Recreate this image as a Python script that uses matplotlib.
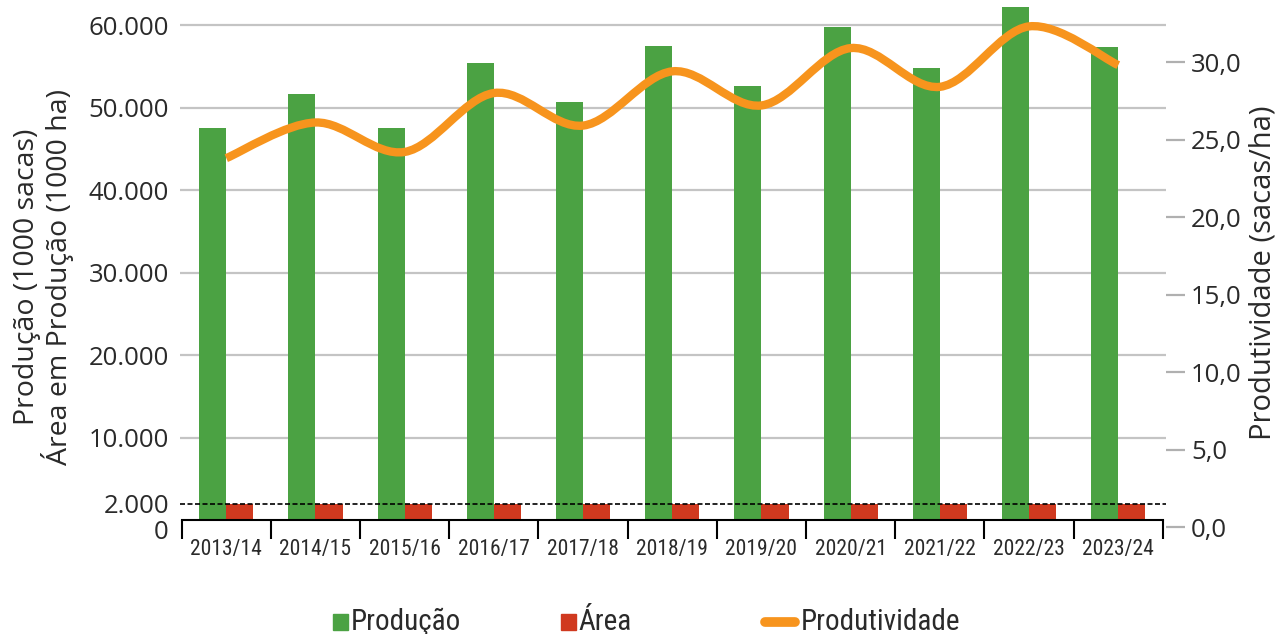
import matplotlib
matplotlib.use('Agg')
import matplotlib.pyplot as plt
import numpy as np
from matplotlib.path import Path
from matplotlib.patches import PathPatch, Rectangle
from matplotlib.lines import Line2D
from matplotlib.ticker import FuncFormatter

safras = ['2013/14', '2014/15', '2015/16', '2016/17', '2017/18', '2018/19',
          '2019/20', '2020/21', '2021/22', '2022/23', '2023/24']
producao = [47570, 51700, 47570, 55340, 50730, 57520, 52670, 59710, 54850, 62140, 57280]
area = [1900, 1900, 1900, 1900, 1900, 1900, 1900, 1900, 1900, 1900, 1900]
produtividade = [23.8, 26.1, 24.2, 28.0, 25.9, 29.4, 27.2, 30.9, 28.4, 32.3, 29.8]

ticks_esq = [0, 2000, 10000, 20000, 30000, 40000, 50000, 60000]
ticks_dir = [0, 5, 10, 15, 20, 25, 30]

verde = '#4ba243'
vermelho = '#d0391f'
laranja = '#f7941d'
cinza = '#c4c4c4'
texto = '#2a2a2a'

fonte = ['Open Sans', 'DejaVu Sans']
estreita = ['Liberation Sans Narrow', 'Roboto Condensed', 'DejaVu Sans']

W, H = 1279, 634
fig = plt.figure(figsize=(W / 100, H / 100), dpi=100)
ax = fig.add_axes([180 / W, 1 - 520 / H, 986 / W, 515 / H])

x = np.arange(len(safras))
larg = 0.303
xlim = (-0.519, 10.535)

# grade so nas dezenas de milhar
for v in ticks_esq[2:]:
    ax.axhline(v, color=cinza, lw=1.6, zorder=0)

ax.bar(x - larg, producao, width=larg, align='edge', color=verde, zorder=2)
ax.bar(x, area, width=larg, align='edge', color=vermelho, zorder=2)
ax.axhline(2000, color='black', lw=1.2, ls=(0, (3, 1.5)), zorder=3)

ax.set_xlim(*xlim)
ax.set_ylim(0, 62430)

for s in ['top', 'right', 'left']:
    ax.spines[s].set_visible(False)
ax.spines['bottom'].set_bounds(-0.5, 10.5)
ax.spines['bottom'].set_linewidth(1.5)
ax.spines['bottom'].set_zorder(4)

ax.set_xticks(np.arange(-0.5, 11, 1))
ax.set_xticklabels([])
ax.tick_params(axis='x', which='major', length=14, width=1.5, color='black', direction='out')
ax.set_xticks(x, minor=True)
ax.set_xticklabels(safras, minor=True, fontsize=15.5, family=estreita, color=texto)
ax.tick_params(axis='x', which='minor', length=0, pad=14)

ax.set_yticks(ticks_esq)
ax.yaxis.set_major_formatter(FuncFormatter(lambda v, p: f'{int(v):,}'.replace(',', '.')))
ax.tick_params(axis='y', length=0, pad=8, labelsize=18.5, labelcolor=texto)
for lb in ax.get_yticklabels():
    lb.set_family(fonte)
ax.get_yticklabels()[0].set_va('top')

fig.text(27 / W, 1 - 277 / H, 'Produção (1000 sacas)', rotation=90, fontsize=20.5,
         family=fonte, color=texto, ha='center', va='center')
fig.text(58 / W, 1 - 277 / H, 'Área em Produção (1000 ha)', rotation=90, fontsize=20.5,
         family=fonte, color=texto, ha='center', va='center')

# eixo da produtividade, um pouco mais baixo que o eixo principal
ax2 = fig.add_axes([180 / W, 1 - 527 / H, 986 / W, 522 / H], facecolor='none')
ax2.set_xlim(*xlim)
ax2.set_ylim(0, 33.68)
for s in ax2.spines.values():
    s.set_visible(False)
ax2.xaxis.set_visible(False)
ax2.yaxis.tick_right()
ax2.set_yticks(ticks_dir)
ax2.yaxis.set_major_formatter(FuncFormatter(lambda v, p: f'{v:.1f}'.replace('.', ',')))
ax2.tick_params(axis='y', length=14, width=1.6, color='#b0b0b0', pad=4,
                labelsize=18.5, labelcolor=texto)
for lb in ax2.get_yticklabels():
    lb.set_family(fonte)
fig.text(1263 / W, 1 - 273 / H, 'Produtividade (sacas/ha)', rotation=90, fontsize=21,
         family=fonte, color=texto, ha='center', va='center')

# linha suavizada (Catmull-Rom em curvas de Bezier)
pts = np.column_stack([x, produtividade]).astype(float)
n = len(pts)
verts = [pts[0]]
codes = [Path.MOVETO]
for i in range(n - 1):
    p0 = pts[i - 1] if i > 0 else pts[i]
    p1, p2 = pts[i], pts[i + 1]
    p3 = pts[i + 2] if i + 2 < n else pts[i + 1]
    verts += [p1 + (p2 - p0) / 6, p2 - (p3 - p1) / 6, p2]
    codes += [Path.CURVE4] * 3
ax2.add_patch(PathPatch(Path(verts, codes), fill=False, edgecolor=laranja, lw=6,
                        capstyle='butt', joinstyle='round', zorder=5))

# legenda
leg_y = 1 - 622 / H
fig.add_artist(Rectangle((333 / W, leg_y - 8 / H), 15 / W, 16 / H,
                         transform=fig.transFigure, color=verde))
fig.text(351 / W, leg_y, 'Produção', fontsize=21, family=estreita, color=texto,
         va='center', ha='left')
fig.add_artist(Rectangle((561 / W, leg_y - 8 / H), 15 / W, 16 / H,
                         transform=fig.transFigure, color=vermelho))
fig.text(578 / W, leg_y, 'Área', fontsize=21, family=estreita, color=texto,
         va='center', ha='left')
fig.add_artist(Line2D([765 / W, 795 / W], [leg_y, leg_y], transform=fig.transFigure,
                      color=laranja, lw=7, solid_capstyle='round'))
fig.text(801 / W, leg_y, 'Produtividade', fontsize=21, family=estreita, color=texto,
         va='center', ha='left')

fig.savefig('out.png', dpi=100)
